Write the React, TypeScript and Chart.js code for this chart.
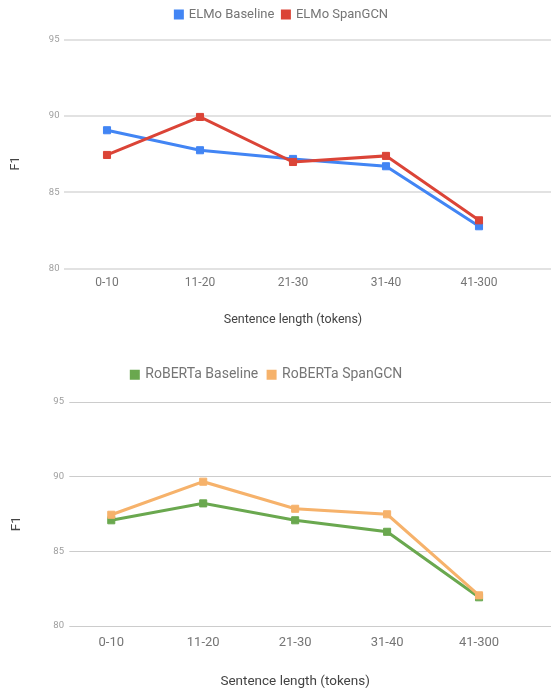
import React, { useEffect, useRef } from "react";
import { Chart, registerables } from "chart.js";

Chart.register(...registerables);

const categories = ["0-10", "11-20", "21-30", "31-40", "41-300"];
const elmoBaseline = [89.07, 87.76, 87.19, 86.71, 82.78];
const elmoSpanGCN = [87.45, 89.94, 86.99, 87.39, 83.17];
const robertaBaseline = [87.07, 88.2, 87.07, 86.3, 81.92];
const robertaSpanGCN = [87.44, 89.65, 87.84, 87.47, 82.05];
const yMin = 80;
const yMax = 95;
const yStep = 5;
const xTitle = "Sentence length (tokens)";
const yTitle = "F1";

const FONT = "Roboto";

const extraPlugin = {
  id: "extra",
  beforeLayout(chart: any, _args: any, opts: any) {
    const lg = chart.legend;
    if (lg && !lg.__patched) {
      const orig = lg.fit.bind(lg);
      lg.fit = function () {
        orig();
        this.height = opts.legendHeight;
      };
      lg.__patched = true;
    }
  },
  beforeDatasetsDraw(chart: any, _args: any, opts: any) {
    const ctx = chart.ctx;
    const y = chart.scales.y;
    ctx.save();
    ctx.strokeStyle = opts.gridColor;
    ctx.lineWidth = opts.gridWidth;
    y.ticks.forEach((t: any) => {
      let py = Math.round(y.getPixelForValue(t.value));
      if (opts.gridWidth % 2 === 1) py += 0.5;
      ctx.beginPath();
      ctx.moveTo(opts.gridStart, py);
      ctx.lineTo(chart.width, py);
      ctx.stroke();
    });
    const ca = chart.chartArea;
    ctx.translate(opts.titleX, (ca.top + ca.bottom) / 2 + opts.titleOffset);
    ctx.rotate(-Math.PI / 2);
    ctx.fillStyle = "#444444";
    ctx.font = `${opts.titleSize}px ${FONT}`;
    ctx.textAlign = "center";
    ctx.textBaseline = "middle";
    ctx.fillText(yTitle, 0, 0);
    ctx.restore();
  },
};

type Series = { label: string; data: number[]; color: string; order: number };

type Spec = {
  height: number;
  series: Series[];
  padLeft: number;
  padRight: number;
  padTop: number;
  legendHeight: number;
  legendSize: number;
  legendPad: number;
  yWidth: number;
  xHeight: number;
  xTickSize: number;
  xTickPad: number;
  yTickSize: number;
  yTickPad: number;
  titleSize: number;
  titlePadTop: number;
  titlePadBottom: number;
  gridColor: string;
  gridWidth: number;
  gridStart: number;
  yTitleX: number;
  yTitleOffset: number;
};

function buildConfig(spec: Spec): any {
  return {
    type: "line",
    data: {
      labels: categories,
      datasets: spec.series.map((s) => ({
        label: s.label,
        data: s.data,
        order: s.order,
        borderColor: s.color,
        backgroundColor: s.color,
        borderWidth: 3,
        pointStyle: "rect",
        pointRadius: 5,
        pointBorderWidth: 1,
        pointBackgroundColor: s.color,
        pointBorderColor: s.color,
        tension: 0,
        fill: false,
      })),
    },
    options: {
      responsive: false,
      animation: false,
      devicePixelRatio: 1,
      layout: {
        padding: { left: spec.padLeft, right: spec.padRight, top: spec.padTop, bottom: 0 },
      },
      plugins: {
        legend: {
          position: "top",
          labels: {
            font: { family: FONT, size: spec.legendSize },
            color: "#757575",
            boxWidth: 7,
            boxHeight: 7,
            padding: spec.legendPad,
            sort: (a: any, b: any) => a.datasetIndex - b.datasetIndex,
          },
        },
        tooltip: { enabled: false },
        extra: {
          legendHeight: spec.legendHeight,
          gridColor: spec.gridColor,
          gridWidth: spec.gridWidth,
          gridStart: spec.gridStart,
          titleX: spec.yTitleX,
          titleOffset: spec.yTitleOffset,
          titleSize: spec.titleSize,
        },
      },
      scales: {
        x: {
          type: "category",
          offset: true,
          grid: { display: false, drawTicks: false },
          border: { display: false },
          ticks: {
            font: { family: FONT, size: spec.xTickSize },
            color: "#757575",
            padding: spec.xTickPad,
          },
          title: {
            display: true,
            text: xTitle,
            font: { family: FONT, size: spec.titleSize },
            color: "#444444",
            padding: { top: spec.titlePadTop, bottom: spec.titlePadBottom },
          },
          afterFit: (s: any) => {
            s.height = spec.xHeight;
          },
        },
        y: {
          min: yMin,
          max: yMax,
          ticks: {
            stepSize: yStep,
            font: { family: FONT, size: spec.yTickSize },
            color: "#9e9e9e",
            padding: spec.yTickPad,
          },
          grid: { display: false, drawTicks: false },
          border: { display: false },
          afterFit: (s: any) => {
            s.width = spec.yWidth;
          },
        },
      },
    },
    plugins: [extraPlugin],
  };
}

function LineChart({ spec }: { spec: Spec }) {
  const ref = useRef<HTMLCanvasElement>(null);
  useEffect(() => {
    if (!ref.current) return;
    const chart = new Chart(ref.current, buildConfig(spec));
    return () => chart.destroy();
  }, [spec]);
  return (
    <canvas
      ref={ref}
      width={551}
      height={spec.height}
      style={{ display: "block", width: 551, height: spec.height }}
    />
  );
}

const topSpec: Spec = {
  height: 345,
  series: [
    { label: "ELMo Baseline", data: elmoBaseline, color: "#4285F4", order: 1 },
    { label: "ELMo SpanGCN", data: elmoSpanGCN, color: "#DB4437", order: 0 },
  ],
  padLeft: 38,
  padRight: 25.5,
  padTop: 0,
  legendHeight: 39.7,
  legendSize: 13,
  legendPad: 8,
  yWidth: 22.5,
  xHeight: 76.3,
  xTickSize: 12,
  xTickPad: 6.8,
  yTickSize: 9.5,
  yTickPad: 1,
  titleSize: 12.5,
  titlePadTop: 21.6,
  titlePadBottom: 17.9,
  gridColor: "#e2e2e2",
  gridWidth: 2,
  gridStart: 64,
  yTitleX: 16.2,
  yTitleOffset: 9.3,
};

const bottomSpec: Spec = {
  height: 345,
  series: [
    { label: "RoBERTa Baseline", data: robertaBaseline, color: "#6AA84F", order: 1 },
    { label: "RoBERTa SpanGCN", data: robertaSpanGCN, color: "#F6B26B", order: 0 },
  ],
  padLeft: 8.6,
  padRight: 26,
  padTop: 13,
  legendHeight: 43.7,
  legendSize: 14,
  legendPad: 9.8,
  yWidth: 56.7,
  xHeight: 64,
  xTickSize: 13,
  xTickPad: 8.5,
  yTickSize: 9.5,
  yTickPad: 1.3,
  titleSize: 13.5,
  titlePadTop: 23.5,
  titlePadBottom: 0.2,
  gridColor: "#cccccc",
  gridWidth: 1,
  gridStart: 69.3,
  yTitleX: 16.7,
  yTitleOffset: 9.8,
};

export default function App() {
  return (
    <div style={{ position: "absolute", left: 0, top: 0, width: 551, height: 690, background: "#ffffff" }}>
      <LineChart spec={topSpec} />
      <LineChart spec={bottomSpec} />
    </div>
  );
}
